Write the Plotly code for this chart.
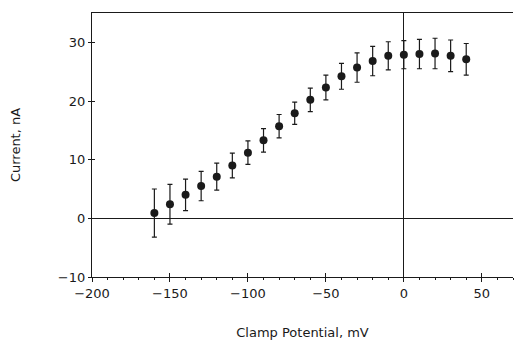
import plotly.graph_objects as go

voltage_mv = [-160, -150, -140, -130, -120, -110, -100, -90, -80, -70, -60,
              -50, -40, -30, -20, -10, 0, 10, 20, 30, 40]
current_na = [0.9, 2.4, 4.0, 5.5, 7.1, 9.0, 11.2, 13.3, 15.7, 17.9, 20.2,
              22.3, 24.2, 25.7, 26.8, 27.7, 27.9, 28.0, 28.1, 27.7, 27.1]
current_err = [4.1, 3.4, 2.7, 2.5, 2.3, 2.1, 2.0, 2.0, 2.0, 1.9, 2.0,
               2.1, 2.2, 2.5, 2.5, 2.4, 2.4, 2.5, 2.6, 2.7, 2.7]

x_ticks = [-200, -150, -100, -50, 0, 50]
x_tick_labels = ["\u2212200", "\u2212150", "\u2212100", "\u221250", "0", "50"]
y_ticks = [-10, 0, 10, 20, 30]
y_tick_labels = ["\u221210", "0", "10", "20", "30"]

ink = "#1a1a1a"
font = dict(family="DejaVu Sans", size=13, color=ink)

fig = go.Figure()
fig.add_trace(go.Scatter(
    x=voltage_mv, y=current_na, mode="markers",
    marker=dict(size=8, color=ink),
    error_y=dict(type="data", array=current_err, visible=True,
                 color=ink, thickness=1.2, width=2.5),
    showlegend=False, xaxis="x", yaxis="y",
))

x_range = [-200, 70]
y_range = [-10, 35]

fig.update_layout(
    width=518, height=344,
    margin=dict(l=92, r=5, t=13, b=67),
    paper_bgcolor="white", plot_bgcolor="white",
    font=font,
    xaxis=dict(
        range=x_range, tickvals=x_ticks, ticktext=x_tick_labels,
        showgrid=False, zeroline=True, zerolinecolor=ink, zerolinewidth=1,
        showline=True, linecolor=ink, linewidth=1.2, mirror=True,
        ticks="outside", ticklen=4, tickcolor=ink, tickwidth=1,
        minor=dict(dtick=10, tick0=0, ticks="outside", ticklen=2,
                   tickcolor=ink, showgrid=False),
        title=dict(text="Clamp Potential, mV", standoff=28, font=font),
    ),
    xaxis2=dict(
        overlaying="x", matches="x", side="bottom", range=x_range,
        tickvals=x_ticks, showticklabels=False, showgrid=False,
        zeroline=False, showline=False,
        ticks="inside", ticklen=4, tickcolor=ink, tickwidth=1,
    ),
    yaxis=dict(
        range=y_range, tickvals=y_ticks, ticktext=y_tick_labels,
        showgrid=False, zeroline=True, zerolinecolor=ink, zerolinewidth=1,
        showline=True, linecolor=ink, linewidth=1.2, mirror=False,
        ticks="outside", ticklen=3, tickcolor=ink, tickwidth=1,
        title=dict(text="Current, nA", standoff=34, font=font),
    ),
    yaxis2=dict(
        overlaying="y", matches="y", side="left", range=y_range,
        tickvals=y_ticks, showticklabels=False, showgrid=False,
        zeroline=False, showline=False,
        ticks="inside", ticklen=3, tickcolor=ink, tickwidth=1,
    ),
)

# invisible trace to activate the second (inside-tick) axes
fig.add_trace(go.Scatter(x=[voltage_mv[0]], y=[current_na[0]], mode="markers",
                         marker=dict(opacity=0), xaxis="x2", yaxis="y2",
                         showlegend=False, hoverinfo="skip"))

fig.write_html("out.html")
